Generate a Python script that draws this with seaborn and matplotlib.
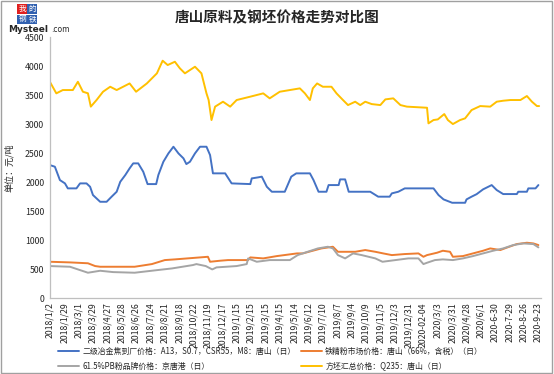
import seaborn as sns
import matplotlib.pyplot as plt
import pandas as pd

# trading-day positions on the category axis
tick_labels = ["2018/1/2", "2018/1/29", "2018/3/1", "2018/3/29", "2018/4/27", "2018/5/28",
               "2018/6/26", "2018/7/24", "2018/8/21", "2018/9/18", "2018/10/22", "2018/11/19",
               "2018/12/17", "2019/1/15", "2019/2/15", "2019/3/15", "2019/4/15", "2019/5/14",
               "2019/6/12", "2019/7/10", "2019/8/7", "2019/9/4", "2019/10/9", "2019/11/5",
               "2019/12/3", "2019/12/31", "2020-02-04", "2020/3/3", "2020/3/31", "2020/4/28",
               "2020/6/1", "2020-6-30", "2020-7-29", "2020-8-26", "2020-9-23"]

coke_day = [0, 7, 14, 21, 25, 37, 42, 51, 56, 60, 70, 79, 86, 93, 98, 105, 111, 116, 123, 130,
            136, 148, 151, 158, 165, 172, 179, 186, 190, 195, 202, 209, 218, 223, 227, 244, 253,
            279, 281, 290, 295, 302, 309, 327, 332, 336, 343, 362, 367, 374, 385, 388, 402, 404,
            411, 416, 446, 457, 473, 476, 485, 494, 534, 541, 548, 560, 578, 580, 587, 594, 603,
            615, 622, 631, 650, 652, 664, 666, 676, 680]
coke_val = [2293, 2264, 2034, 1977, 1891, 1891, 1977, 1977, 1919, 1776, 1660, 1660, 1748, 1833,
            2005, 2121, 2236, 2322, 2322, 2178, 1965, 1965, 2121, 2350, 2494, 2609, 2494, 2408,
            2310, 2350, 2494, 2609, 2609, 2465, 2150, 2150, 1977, 1965, 2063, 2081, 2093, 1919,
            1833, 1833, 1977, 2093, 2150, 2150, 2034, 1833, 1833, 1948, 1948, 2046, 2046, 1833,
            1833, 1748, 1748, 1805, 1833, 1891, 1891, 1776, 1701, 1643, 1643, 1701, 1748, 1791,
            1874, 1948, 1862, 1793, 1793, 1833, 1833, 1891, 1891, 1948]

ore_day = [0, 28, 53, 63, 70, 118, 142, 160, 174, 209, 220, 223, 237, 248, 276, 279, 297, 316,
           344, 352, 378, 394, 401, 425, 439, 453, 464, 476, 494, 513, 520, 525, 539, 547, 557,
           561, 575, 589, 603, 613, 627, 637, 650, 664, 673, 680]
ore_val = [626, 615, 600, 552, 540, 540, 586, 655, 667, 701, 712, 626, 644, 655, 655, 701, 684,
           724, 770, 770, 856, 885, 798, 798, 828, 798, 770, 741, 759, 770, 712, 741, 782, 816,
           798, 712, 724, 770, 816, 856, 828, 874, 931, 954, 942, 914]

pb_day = [0, 28, 53, 70, 88, 118, 150, 170, 199, 204, 217, 226, 232, 260, 274, 276, 288, 306,
          334, 345, 352, 373, 387, 394, 401, 411, 422, 434, 453, 463, 481, 499, 513, 520, 525,
          536, 547, 561, 575, 589, 603, 617, 631, 645, 659, 673, 680]
pb_val = [552, 540, 437, 471, 448, 437, 483, 511, 569, 586, 552, 494, 529, 552, 586, 684, 626,
          655, 655, 741, 770, 856, 885, 856, 741, 684, 770, 741, 684, 626, 655, 684, 684, 586,
          609, 655, 667, 655, 684, 724, 770, 816, 856, 914, 942, 931, 874]

billet_day = [0, 9, 18, 32, 39, 46, 53, 57, 65, 74, 84, 93, 111, 120, 135, 149, 157, 164, 174,
              181, 188, 202, 211, 218, 221, 225, 230, 241, 251, 260, 279, 297, 306, 320, 334,
              348, 355, 362, 366, 372, 380, 392, 399, 408, 415, 425, 432, 439, 448, 460, 467,
              478, 488, 497, 525, 527, 534, 540, 549, 554, 561, 571, 578, 587, 599, 613, 622,
              631, 641, 655, 664, 671, 678, 681]
billet_val = [3729, 3529, 3586, 3586, 3729, 3557, 3530, 3300, 3414, 3557, 3643, 3586, 3700,
              3557, 3700, 3874, 4092, 4017, 4074, 3960, 3874, 3988, 3874, 3529, 3414, 3069,
              3300, 3385, 3300, 3414, 3472, 3529, 3443, 3557, 3586, 3615, 3529, 3414, 3615,
              3700, 3643, 3643, 3529, 3414, 3327, 3385, 3327, 3385, 3344, 3327, 3425, 3443,
              3327, 3300, 3281, 3012, 3069, 3080, 3172, 3069, 3000, 3069, 3098, 3241, 3310,
              3300, 3385, 3402, 3414, 3414, 3483, 3385, 3310, 3310]

names = ["二级冶金焦到厂价格：A13，S0.7，CSR55，M8：唐山（日）",
         "铁精粉市场价格：唐山（66%，含税）（日）",
         "61.5%PB粉品牌价格：京唐港（日）",
         "方坯汇总价格：Q235：唐山（日）"]
colors = ["#4472C4", "#ED7D31", "#A5A5A5", "#FFC000"]

sns.set_style("white")
plt.rcParams['font.family'] = ['Noto Sans CJK SC', 'DejaVu Sans']

fig = plt.figure(figsize=(5.54, 3.74), dpi=100)
ax = fig.add_axes([0.090, 0.203, 0.887, 0.698])

series = [(coke_day, coke_val), (ore_day, ore_val), (pb_day, pb_val), (billet_day, billet_val)]
handles = []
for (d, v), name, c in zip(series, names, colors):
    df = pd.DataFrame({'day': d, 'price': v})
    sns.lineplot(data=df, x='day', y='price', color=c, linewidth=1.4, ax=ax)
    handles.append(ax.lines[-1])

ax.set_xlim(0, 684)
ax.set_ylim(0, 4500)
ax.set_yticks(range(0, 4501, 500))
ax.set_xticks(range(0, 20 * len(tick_labels), 20))
ax.set_xticklabels(tick_labels, rotation=90, fontsize=6.3)
ax.tick_params(axis='y', labelsize=6.3, length=0, pad=4)
ax.tick_params(axis='x', length=0, pad=3)
ax.set_xlabel("")
ax.set_ylabel("单位：元/吨", fontsize=6.5, labelpad=8)
for s in ['top', 'right']:
    ax.spines[s].set_visible(False)
for s in ['left', 'bottom']:
    ax.spines[s].set_color('#BFBFBF')
    ax.spines[s].set_linewidth(0.9)

fig.text(0.5, 0.953, "唐山原料及钢坯价格走势对比图", ha='center', va='center',
         fontsize=10.5, fontweight='bold')

# logo
box = dict(boxstyle='square,pad=0.12', ec='none')
fig.text(0.040, 0.977, "我", color='white', fontsize=5.5, ha='center', va='center',
         bbox={**box, 'fc': '#E02020'})
fig.text(0.058, 0.977, "的", color='white', fontsize=5.5, ha='center', va='center',
         bbox={**box, 'fc': '#3060B0'})
fig.text(0.040, 0.948, "钢", color='white', fontsize=5.5, ha='center', va='center',
         bbox={**box, 'fc': '#3060B0'})
fig.text(0.058, 0.948, "铁", color='white', fontsize=5.5, ha='center', va='center',
         bbox={**box, 'fc': '#3060B0'})
fig.text(0.014, 0.922, "Mysteel", fontsize=6.5, fontweight='bold', ha='left', va='center',
         family=['DejaVu Sans'])
fig.text(0.093, 0.922, ".com", fontsize=5.5, ha='left', va='center', family=['DejaVu Sans'])

order = [0, 2, 1, 3]
fig.legend([handles[i] for i in order], [names[i] for i in order], ncol=2,
           loc='lower left', bbox_to_anchor=(0.092, -0.01), frameon=False, fontsize=5.7,
           handlelength=2.7, columnspacing=0.6, labelspacing=0.7, handletextpad=0.4)

fig.patches.append(plt.Rectangle((0.002, 0.003), 0.995, 0.994, transform=fig.transFigure,
                                 fill=False, ec='#A0A0A0', lw=1))

plt.savefig('out.png', dpi=100)
